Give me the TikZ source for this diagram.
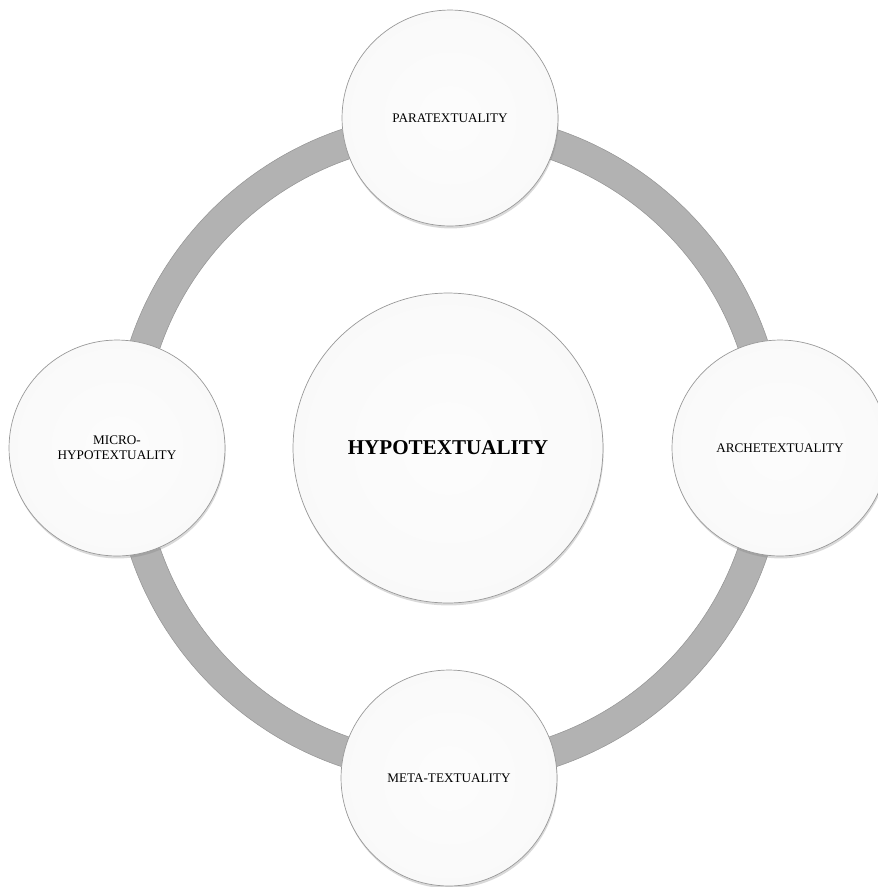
\documentclass[tikz,border=0pt]{standalone}
\usepackage{fontspec}
\setmainfont{Liberation Serif}
\usepackage{tikz}
\usetikzlibrary{shadows}
\pgfdeclareradialshading{bubbleshade}{\pgfpoint{0bp}{0bp}}{color(0bp)=(black!1); color(40bp)=(black!3); color(43.5bp)=(white); color(45.5bp)=(black!9); color(48.5bp)=(black!15); color(50bp)=(black!30)}
\tikzset{
	bubble/.style={circle, shade, shading=bubbleshade, draw=black!40, line width=0.4pt, align=center, inner sep=0pt,
		drop shadow={opacity=0.3, shadow xshift=0.4pt, shadow yshift=-1.4pt},
		font=\fontsize{7.5}{8.6}\selectfont},
	small/.style={bubble, minimum size=4.32cm},
	hubbox/.style={bubble, minimum size=6.2cm, font=\fontsize{12}{14}\selectfont\bfseries},
}

\begin{document}
\begin{tikzpicture}[x=0.02cm, y=-0.02cm]
		%%%%% START %%%%%
		
		\useasboundingbox (0, 0) rectangle (878, 887);
		
		\coordinate (mid) at (449, 448);
		
		% ring behind the bubbles
		\draw[line width=0.61cm, color=black!30] (mid) circle [radius=6.42cm];
		\draw[line width=0.3pt, color=black!42] (mid) circle [radius=6.725cm];
		\draw[line width=0.3pt, color=black!42] (mid) circle [radius=6.115cm];
		
		\node[hubbox] (hub) at (448, 448) {HYPOTEXTUALITY};
		
		\node[small] (para) at (450, 118) {PARATEXTUALITY};
		\node[small] (arch) at (780, 448) {ARCHETEXTUALITY};
		\node[small] (meta) at (449, 778) {META-TEXTUALITY};
		\node[small] (micro) at (117, 448) {MICRO-\\HYPOTEXTUALITY};
		
		%%%%% END %%%%%
	\end{tikzpicture}
\end{document}
